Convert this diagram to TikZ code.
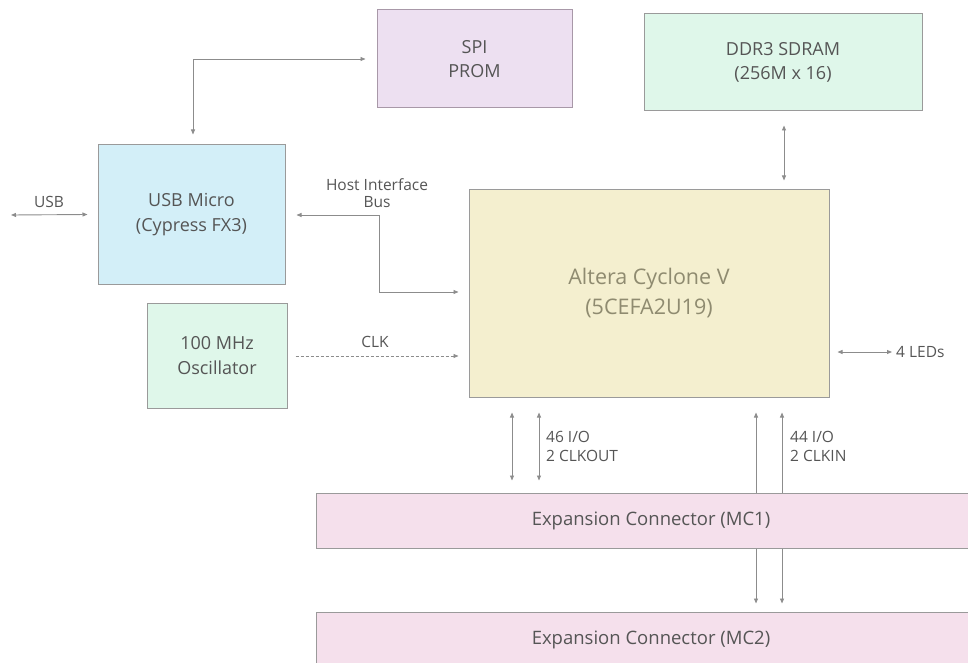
\documentclass[tikz,border=0pt]{standalone}
\usepackage{fontspec}
\setmainfont{Open Sans}
\usetikzlibrary{arrows.meta}
\definecolor{txt}{HTML}{555555}
\definecolor{ln}{HTML}{8C8C8C}
\definecolor{bd}{HTML}{9A9A9A}
\definecolor{spi}{HTML}{EDE0F1}
\definecolor{spibd}{HTML}{A898A8}
\definecolor{grn}{HTML}{DFF7EA}
\definecolor{usb}{HTML}{D3EFF8}
\definecolor{alt}{HTML}{F4EFCF}
\definecolor{alttxt}{HTML}{8F8B70}
\definecolor{mc}{HTML}{F5E0EC}
\tikzset{
  x=1pt,y=-1pt,
  blk/.style={draw=bd,line width=1pt,inner sep=0pt,text=txt,align=center,
    font=\fontsize{18}{24.5}\selectfont},
  lbl/.style={text=txt,inner sep=0pt,font=\fontsize{15.5}{17}\selectfont},
  conn/.style={draw=ln,line width=0.9pt,{Triangle[length=5pt,width=4pt]}-{Triangle[length=5pt,width=4pt]}},
  conr/.style={draw=ln,line width=0.9pt,-{Triangle[length=5pt,width=4pt]}},
}
\begin{document}
\begin{tikzpicture}
\useasboundingbox (0,0) rectangle (968,663);
\clip (0,0) rectangle (968,663);
% boxes
\node[blk,fill=spi,draw=spibd,minimum width=195pt,minimum height=98pt] (spi) at (474.5,59) {SPI\\PROM};
\node[blk,fill=grn,minimum width=278pt,minimum height=97pt] (ddr) at (783,62.5) {DDR3 SDRAM\\(256M x 16)};
\node[blk,fill=usb,minimum width=187pt,minimum height=139pt] (usb) at (191.5,214.5) {USB Micro\\(Cypress FX3)};
\node[blk,fill=alt,minimum width=360pt,minimum height=208pt,text=alttxt,
  font=\fontsize{21.5}{30}\selectfont] (fpga) at (649,293) {Altera Cyclone V\\(5CEFA2U19)};
\node[blk,fill=grn,minimum width=140pt,minimum height=105pt] (osc) at (217,355.5) {100 MHz\\Oscillator};
\node[blk,fill=mc,minimum width=670pt,minimum height=55pt,font=\fontsize{18.5}{24}\selectfont] (mc1) at (651,520.5) {Expansion Connector (MC1)};
\node[blk,fill=mc,minimum width=670pt,minimum height=56pt,font=\fontsize{18.5}{24}\selectfont] (mc2) at (651,640) {Expansion Connector (MC2)};
% coordinates
\coordinate (usbL) at (11,215);
\coordinate (spiC) at (193,59);
\coordinate (hibC1) at (379,215);
\coordinate (hibC2) at (379,292);
% connectors
\draw[conn] (usbL) -- ([xshift=-10pt]usb.west);
\node[lbl] (usblbl) at (49,201.5) {USB};
\draw[conn] ([yshift=10pt]usb.north -| spiC) -- (spiC) -- ([xshift=-11pt]spi.west |- spiC);
\draw[conn] ([xshift=11pt]usb.east |- hibC1) -- (hibC1) -- (hibC2) -- ([xshift=-10pt]fpga.west |- hibC2);
\node[lbl,align=center] (hiblbl) at (377,193) {Host Interface\\Bus};
\draw[conr,dashed,dash pattern=on 3pt off 2pt] ([xshift=8pt]osc.east |- 0,356) -- ([xshift=-10pt]fpga.west |- 0,356);
\node[lbl] (clklbl) at (375,341.5) {CLK};
\draw[conn] ([yshift=-14pt]ddr.south -| 784,0) -- ([yshift=8pt]fpga.north -| 784,0);
\draw[conn] ([xshift=8pt]fpga.east |- 0,352) -- (892,352);
\node[lbl,anchor=west] (ledlbl) at (896,352) {4 LEDs};
% bottom connectors
\draw[conn] ([yshift=-15pt]fpga.south -| 512,0) -- ([yshift=12pt]mc1.north -| 512,0);
\draw[conn] ([yshift=-15pt]fpga.south -| 539,0) -- ([yshift=12pt]mc1.north -| 539,0);
\node[lbl,anchor=north west,align=left,font=\fontsize{15.5}{19}\selectfont] (l46) at (546,431) {46 I/O\\2 CLKOUT};
\draw[conr] (mc1.north -| 756,0) -- ([yshift=-15pt]fpga.south -| 756,0);
\draw[conr] (mc1.north -| 782,0) -- ([yshift=-15pt]fpga.south -| 782,0);
\draw[conr] (mc1.south -| 756,0) -- ([yshift=8pt]mc2.north -| 756,0);
\draw[conr] (mc1.south -| 782,0) -- ([yshift=8pt]mc2.north -| 782,0);
\node[lbl,anchor=north west,align=left,font=\fontsize{15.5}{19}\selectfont] (l44) at (790,431) {44 I/O\\2 CLKIN};
\end{tikzpicture}
\end{document}
